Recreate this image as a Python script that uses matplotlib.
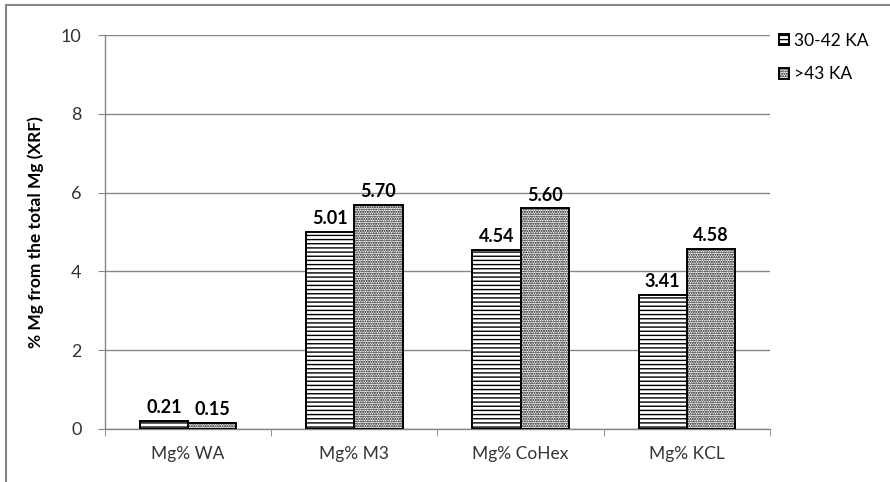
import matplotlib
matplotlib.use("Agg")
import matplotlib.pyplot as plt
import numpy as np
from matplotlib.lines import Line2D

plt.rcParams['font.family'] = ['Lato', 'DejaVu Sans']
plt.rcParams['hatch.linewidth'] = 1.0

categories = ["Mg% WA", "Mg% M3", "Mg% CoHex", "Mg% KCL"]
series_names = ["30-42 KA", ">43 KA"]
values_30_42 = [0.21, 5.01, 4.54, 3.41]
values_43 = [0.15, 5.70, 5.60, 4.58]
y_ticks = [0, 2, 4, 6, 8, 10]

fig = plt.figure(figsize=(8.9, 4.82), dpi=100)
ax = fig.add_axes([0.118, 0.110, 0.747, 0.817])

x = np.arange(len(categories))
w = 0.29
b1 = ax.bar(x - w / 2, values_30_42, w, facecolor="white", edgecolor="black",
            hatch="----", linewidth=1.4, label=series_names[0], zorder=3)
b2 = ax.bar(x + w / 2, values_43, w, facecolor="white", edgecolor="black",
            hatch=".......", linewidth=1.4, label=series_names[1], zorder=3)

for bars, vals in ((b1, values_30_42), (b2, values_43)):
    for rect, v in zip(bars, vals):
        ax.text(rect.get_x() + rect.get_width() / 2, v + 0.12, f"{v:.2f}",
                ha="center", va="bottom", fontsize=13, fontweight="bold",
                color="black")

ax.set_xlim(-0.5, len(categories) - 0.5)
ax.set_ylim(0, 10)
ax.set_yticks(y_ticks)
ax.set_yticklabels([str(t) for t in y_ticks], fontsize=13, color="#333333")
ax.set_xticks(x)
ax.set_xticklabels(categories, fontsize=12.5, color="#333333")
ax.set_xticks(np.arange(-0.5, len(categories) + 0.5, 1), minor=True)
ax.tick_params(axis="x", which="major", length=0, pad=12)
ax.tick_params(axis="x", which="minor", length=5, color="#868686", direction="out")
ax.tick_params(axis="y", length=5, color="#868686", direction="out", pad=12)

ax.yaxis.grid(True, color="#868686", linewidth=1.0, zorder=0)
ax.set_axisbelow(True)
for side in ("top", "right"):
    ax.spines[side].set_visible(False)
for side in ("left", "bottom"):
    ax.spines[side].set_color("#868686")
    ax.spines[side].set_linewidth(1.0)

ax.set_ylabel("% Mg from the total Mg (XRF)", fontsize=12.5, fontweight="bold",
              labelpad=12)

leg = ax.legend(loc="upper left", bbox_to_anchor=(0.99, 1.045), frameon=False,
                fontsize=12.5, handlelength=0.6, handleheight=0.6,
                handletextpad=0.25, labelspacing=1.0)

# outer chart frame
fig.add_artist(Line2D([6 / 890, 6 / 890], [0, 1 - 5 / 482], color="#868686",
                      linewidth=1.5, transform=fig.transFigure))
fig.add_artist(Line2D([6 / 890, 1], [1 - 5 / 482, 1 - 5 / 482], color="#868686",
                      linewidth=1.5, transform=fig.transFigure))

fig.savefig("out.png", dpi=100, facecolor="white")
